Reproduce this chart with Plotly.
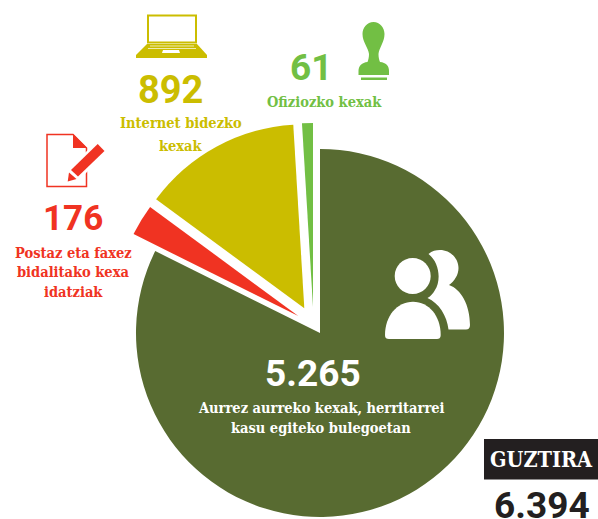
import re
import plotly.graph_objects as go

W, H = 598, 519

categories = ["Aurrez aurreko kexak", "Postaz eta faxez", "Internet bidezko", "Ofiziozko kexak"]
values = [5265, 176, 892, 61]
value_labels = ["5.265", "176", "892", "61"]
colors = ["#586b31", "#f03322", "#cbbd00", "#72bf44"]
total_label = "6.394"
total_title = "GUZTIRA"

# layout: centre of each detached wedge in pixels
centres = [(320, 333), (298.3, 316), (304.3, 308.3), (313, 307)]
RADIUS = 184

SLAB = "DejaVu Serif Condensed, DejaVu Serif, serif"
NUM = "Roboto, sans-serif"
LBL = 14.5


def path(s):
    """Pixel-coordinate SVG path to paper coordinates."""
    toks = re.findall(r"[A-Za-z]|-?\d+\.?\d*", s)
    out, is_x = [], True
    for t in toks:
        if t.isalpha():
            out.append(t)
            is_x = True
        else:
            v = float(t)
            out.append(f"{v / W:.5f}" if is_x else f"{1 - v / H:.5f}")
            is_x = not is_x
    res, i = "", 0
    while i < len(out):
        if out[i].isalpha():
            res += out[i]
            i += 1
        else:
            res += f"{out[i]},{out[i + 1]} "
            i += 2
    return res


def circle(cx, cy, r):
    k = 0.5523 * r
    return (f"M{cx - r} {cy} C{cx - r} {cy - k} {cx - k} {cy - r} {cx} {cy - r} "
            f"C{cx + k} {cy - r} {cx + r} {cy - k} {cx + r} {cy} "
            f"C{cx + r} {cy + k} {cx + k} {cy + r} {cx} {cy + r} "
            f"C{cx - k} {cy + r} {cx - r} {cy + k} {cx - r} {cy} Z")


def shape(s, fill=None, line=None, width=0):
    return dict(type="path", xref="paper", yref="paper", path=path(s),
                fillcolor=fill or "rgba(0,0,0,0)",
                line=dict(color=line or "rgba(0,0,0,0)", width=width), layer="above")


def ann(text, x, y, size, color, family, bold=True):
    return dict(text=f"<b>{text}</b>" if bold else text, x=x / W, y=1 - y / H, xref="paper", yref="paper",
                xanchor="center", yanchor="middle", showarrow=False,
                font=dict(size=size, color=color, family=family))


fig = go.Figure()
total = sum(values)
start = 0.0
for v, c, (cx, cy), name in zip(values, colors, centres, categories):
    fig.add_trace(go.Pie(
        values=[v, total - v], labels=[name, "rest"], sort=False, direction="clockwise",
        rotation=start, textinfo="none", hoverinfo="skip", showlegend=False,
        marker=dict(colors=[c, "rgba(0,0,0,0)"], line=dict(width=0)),
        domain=dict(x=[(cx - RADIUS) / W, (cx + RADIUS) / W],
                    y=[1 - (cy + RADIUS) / H, 1 - (cy - RADIUS) / H]),
    ))
    start += v / total * 360

YEL, RED, GRN = colors[2], colors[1], colors[3]
shapes = [
    # total box
    dict(type="rect", xref="paper", yref="paper", x0=484 / W, x1=1, y0=1 - 479.5 / H, y1=1 - 439 / H,
         fillcolor="#231f20", line=dict(width=0), layer="above"),
    # laptop
    shape("M148 15.5 L196 15.5 L196 42.5 L148 42.5 Z", None, YEL, 2),
    shape("M147 44 L197 44 L207 55 L207 58 L136 58 L136 55 Z", YEL),
    shape("M163 50 L179 50 L180 53 L162 53 Z", "#ffffff"),
    shape("M150 46 L194 46", None, "#ffffff", 0.7),
    shape("M148 48.5 L196 48.5", None, "#ffffff", 0.7),
    # stamp
    shape("M373.5 22 C380 22 384.5 28 384.5 34 C384.5 42 379 48 378.5 54 C378.5 57 379 60 380 62 "
          "C386 62.5 389 66 389 71 L389 75 L358.5 75 L358.5 71 C358.5 66 362 62.5 367.5 62 "
          "C368.5 60 369 57 369 54 C368.5 48 362.5 42 362.5 34 C362.5 28 367 22 373.5 22 Z", GRN),
    shape("M361 77.5 L387 77.5 L387 80 L361 80 Z", GRN),
    # document
    shape("M47 134.5 L73 134.5 L86.5 148 L86.5 186.5 L47 186.5 Z", None, RED, 1.5),
    shape("M73 134 L87 148 L73 148 Z", RED),
    # pencil
    shape("M98 141 L108 151 L79 180 L64 184 L67 169 Z", "#ffffff"),
    shape("M97.7 144 L104.5 151 L78 176.5 L71 170 Z", RED),
    shape("M69 172.5 L76.5 179 L67.7 181.5 Z", RED),
    # people
    shape(circle(412.7, 276, 18), "#ffffff"),
    shape("M385 335 C385 316 397 301.7 413 301.7 C429 301.7 440.7 316 440.7 335 "
          "C440.7 338 439 339 437 339 L389 339 C386.5 339 385 338 385 335 Z", "#ffffff"),
    shape("M428.5 254 C432 251 436 250 440 250 C450 250 458.5 258 458.5 268 C458.5 275 454.5 281 449 285 "
          "C461 289 470 305 470 325 C470 328 468.5 329.5 466 329.5 L448.5 329.5 "
          "C447 316 439 303 427.5 298 C431 296 433 293.5 435 290 C441 281 440 263 428.5 254 Z", "#ffffff"),
]

annotations = [
    ann(value_labels[2], 171, 90, 38, YEL, NUM),
    ann("Internet bidezko", 181, 123, LBL, YEL, SLAB),
    ann("kexak", 181, 145, LBL, YEL, SLAB),
    ann(value_labels[3], 310.5, 67, 37, GRN, NUM),
    ann("Ofiziozko kexak", 324, 101, LBL, GRN, SLAB),
    ann(value_labels[1], 73, 218, 35, RED, NUM),
    ann("Postaz eta faxez", 73, 252, LBL, RED, SLAB),
    ann("bidalitako kexa", 73, 271, LBL, RED, SLAB),
    ann("idatziak", 73, 291, LBL, RED, SLAB),
    ann(value_labels[0], 313, 373, 37, "#ffffff", NUM),
    ann("Aurrez aurreko kexak, herritarrei", 321, 407, LBL, "#ffffff", SLAB),
    ann("kasu egiteko bulegoetan", 321, 427, LBL, "#ffffff", SLAB),
    ann(total_title, 541, 459, 21.5, "#ffffff", SLAB),
    ann(total_label, 542, 505, 37, "#231f20", NUM),
]

fig.update_layout(width=W, height=H, margin=dict(l=0, r=0, t=0, b=0),
                  paper_bgcolor="#ffffff", plot_bgcolor="#ffffff",
                  shapes=shapes, annotations=annotations, showlegend=False)

fig.write_html("out.html", config=dict(displayModeBar=False),
               post_script="document.body.style.margin='0';document.documentElement.style.overflow='hidden';window.dispatchEvent(new Event('resize'));")
